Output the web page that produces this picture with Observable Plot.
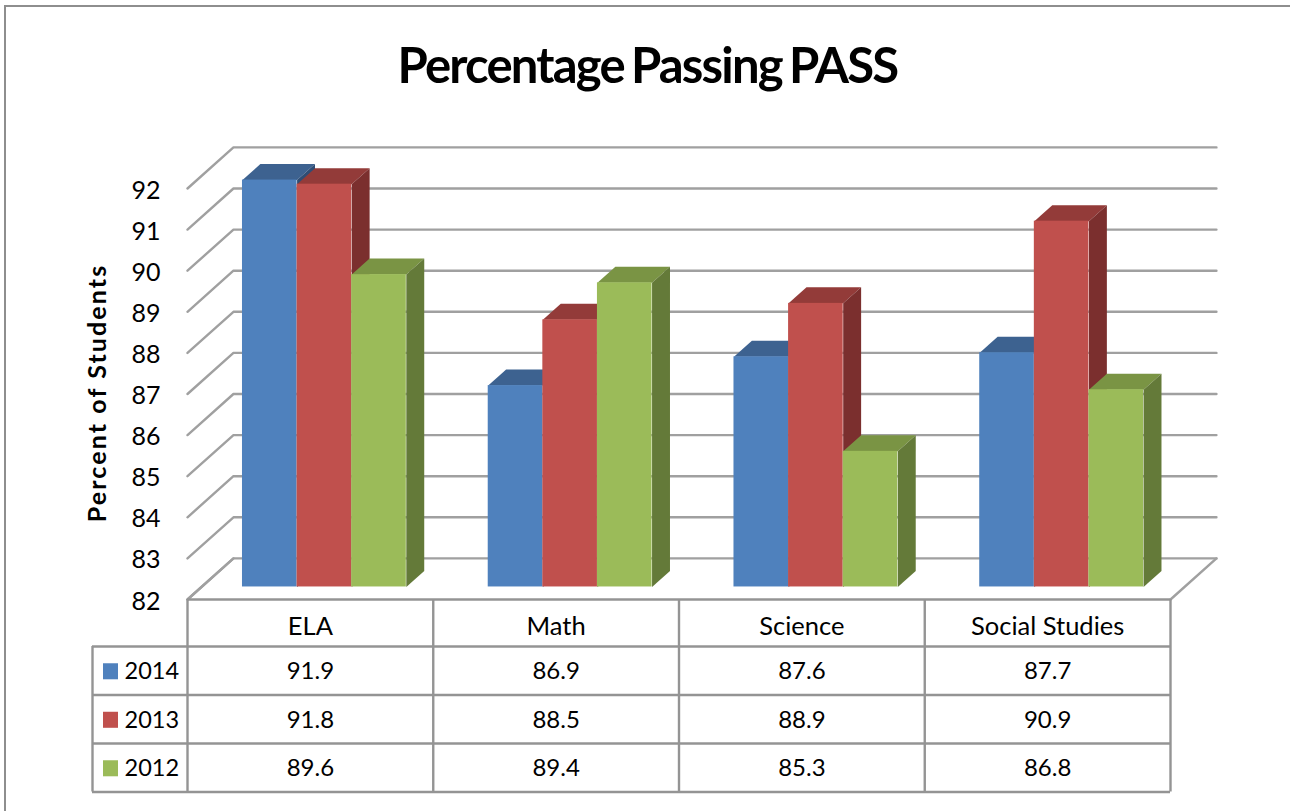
<!DOCTYPE html>
<html><head><meta charset="utf-8">
<script src="https://cdn.jsdelivr.net/npm/d3@7"></script>
<script src="https://cdn.jsdelivr.net/npm/@observablehq/plot@0.6"></script>
<style>
html,body{margin:0;padding:0;background:#fff;width:1290px;height:811px;overflow:hidden}
#wrap{position:relative;width:1290px;height:811px}
#frameLine{position:absolute;left:4px;top:5px;right:0;bottom:0;border-left:2.5px solid #8e8e8e;border-top:2.5px solid #8e8e8e}
#title{position:absolute;left:0;top:0;width:1295px;height:130px;text-align:center;font:700 49px/128px Lato,sans-serif;color:#000;letter-spacing:-1.8px;word-spacing:-3px}
#chart{position:absolute;left:0;top:130px}
svg{display:block;background:transparent}
.ylab text,text.ylab{letter-spacing:2.1px}
</style></head><body>
<div id="wrap"><div id="frameLine"></div><div id="title">Percentage Passing PASS</div><div id="chart"></div></div>
<script>
const categories = ["ELA", "Math", "Science", "Social Studies"];
const years = ["2014", "2013", "2012"];
const values2014 = [91.9, 86.9, 87.6, 87.7];
const values2013 = [91.8, 88.5, 88.9, 90.9];
const values2012 = [89.6, 89.4, 85.3, 86.8];
const yTicks = [82, 83, 84, 85, 86, 87, 88, 89, 90, 91, 92];

const seriesValues = [values2014, values2013, values2012];
const frontColors = ["#4f81bd", "#c0504d", "#9bbb59"];
const topColors = ["#3d6290", "#933b39", "#7a9444"];
const sideColors = ["#2f4d75", "#7b2f2e", "#647a39"];

const base = 82;
const depthX = 0.187, depthY = 1;       // oblique projection of one unit of depth
const gap = 0.75 / 4.5, barW = 1 / 4.5; // 50% gap width
const barDepth0 = 0.305, barDepth1 = 0.695;
const proj = (x, v, d) => ({x: x + d * depthX, y: v + d * depthY});

// gridlines: side wall + back wall
const wallLines = yTicks.flatMap(v => [
  {...proj(0, v, 0), z: v}, {...proj(0, v, 1), z: v}, {...proj(4, v, 1), z: v}
]);
const floorEdge = [proj(0, base, 0), proj(0, base, 1)].map(p => ({...p, z: "l"}))
  .concat([proj(4, base, 0), proj(4, base, 1)].map(p => ({...p, z: "r"})));

function faces(s) {
  const top = [], side = [], front = [];
  categories.forEach((c, i) => {
    const v = seriesValues[s][i];
    const x0 = i + gap + s * barW, x1 = x0 + barW;
    [[x0, barDepth0], [x1, barDepth0], [x1, barDepth1], [x0, barDepth1]]
      .forEach(([x, d]) => top.push({...proj(x, v, d), z: c}));
    [[v, barDepth0], [base, barDepth0], [base, barDepth1], [v, barDepth1]]
      .forEach(([val, d]) => side.push({...proj(x1, val, d), z: c}));
    const a = proj(x0, base, barDepth0), b = proj(x1, v, barDepth0);
    front.push({x1: a.x, x2: b.x, y1: a.y, y2: b.y});
  });
  return {top, side, front};
}
const barMarks = years.flatMap((_, s) => {
  const f = faces(s);
  return [
    Plot.line(f.top, {x: "x", y: "y", z: "z", fill: topColors[s], stroke: "none"}),
    Plot.line(f.side, {x: "x", y: "y", z: "z", fill: sideColors[s], stroke: "none"}),
    Plot.rect(f.front, {x1: "x1", x2: "x2", y1: "y1", y2: "y2", fill: frontColors[s]})
  ];
});

// data table below the plot, in scale units
const unit = 41.1;
const rowH = 48.5 / unit, headH = 47 / unit;
const rowLine = r => base - headH - r * rowH;
const headY = base - headH / 2 - 0.09;
const rowMid = r => rowLine(r) - rowH / 2 - 0.02;
const legendLeft = -95 / 245.75;
const colLines = [0, 1, 2, 3, 4];

const hLines = [
  {x1: 0, x2: 4, y: base},
  ...[0, 1, 2, 3].map(r => ({x1: legendLeft, x2: 4, y: rowLine(r)}))
];
const vLines = [
  ...colLines.map(x => ({x, y1: base, y2: rowLine(3)})),
  {x: legendLeft, y1: rowLine(0), y2: rowLine(3)}
];
const cells = seriesValues.flatMap((vals, r) => vals.map((v, i) => ({x: i + 0.5, y: rowMid(r), t: v.toFixed(1)})));
const swatches = years.map((y, r) => ({
  x1: legendLeft + 11 / 245.75, x2: legendLeft + 26 / 245.75,
  y1: rowMid(r) + 0.19, y2: rowMid(r) - 0.2, fill: frontColors[r]
}));
const legendLabels = years.map((y, r) => ({x: legendLeft + 32 / 245.75, y: rowMid(r), t: y}));

const gridStyle = {stroke: "#a0a0a0", strokeWidth: 2.4};
const tableStyle = {stroke: "#949494", strokeWidth: 2.4};
const font = 23.5;

const chart = Plot.plot({
  width: 1290, height: 681,
  marginLeft: 187, marginRight: 120, marginTop: 58, marginBottom: 212,
  style: {fontFamily: "Lato, sans-serif", background: "transparent", overflow: "visible", color: "#000"},
  x: {domain: [0, 4], axis: null},
  y: {domain: [82, 92], axis: null},
  marks: [
    Plot.line(wallLines, {x: "x", y: "y", z: "z", ...gridStyle}),
    Plot.line(floorEdge, {x: "x", y: "y", z: "z", ...gridStyle}),
    ...barMarks,
    Plot.axisY(yTicks, {anchor: "left", tickSize: 0, tickPadding: 27, label: null, fontSize: 25, dy: 2, tickFormat: d => String(d), stroke: null, fill: "#000"}),
    Plot.text(["Percent of Students"], {frameAnchor: "left", textAnchor: "middle", rotate: -90, dx: -90, dy: -1, fontSize: 25, fontWeight: 700, fill: "#000", className: "ylab"}),
    Plot.ruleY(hLines, {x1: "x1", x2: "x2", y: "y", ...tableStyle}),
    Plot.ruleX(vLines, {x: "x", y1: "y1", y2: "y2", ...tableStyle}),
    Plot.text(categories, {x: (d, i) => i + 0.5, y: headY, text: d => d, fontSize: 25.5, fill: "#000"}),
    Plot.text(cells, {x: "x", y: "y", text: "t", fontSize: 24, fill: "#000"}),
    Plot.rect(swatches, {x1: "x1", x2: "x2", y1: "y1", y2: "y2", fill: "fill"}),
    Plot.text(legendLabels, {x: "x", y: "y", text: "t", textAnchor: "start", fontSize: font, fill: "#000"})
  ]
});
document.getElementById("chart").appendChild(chart);
</script>
</body></html>
